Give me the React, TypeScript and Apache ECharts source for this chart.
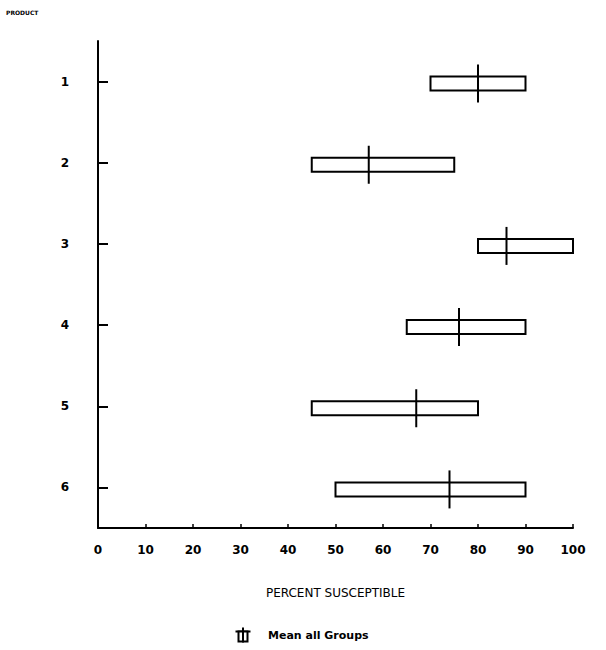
import React, { useEffect, useRef } from "react";
import * as echarts from "echarts";

const groups = ["1", "2", "3", "4", "5", "6"];
const lows = [70, 45, 80, 65, 45, 50];
const highs = [90, 75, 100, 90, 80, 90];
const means = [80, 57, 86, 76, 67, 74];
const xTicks = [0, 10, 20, 30, 40, 50, 60, 70, 80, 90, 100];

const FONT = "DejaVu Sans";

export default function App() {
  const ref = useRef<HTMLDivElement>(null);
  useEffect(() => {
    if (!ref.current) return;
    const chart = echarts.init(ref.current, undefined, { renderer: "svg" });
    const data = groups.map((g, i) => [i, lows[i], highs[i], means[i]]);
    chart.setOption({
      animation: false,
      backgroundColor: "#fff",
      grid: {
        left: 98,
        right: 33,
        top: 41,
        bottom: 122,
        containLabel: false,
        outerBoundsMode: "none",
      },
      xAxis: {
        type: "value",
        min: xTicks[0],
        max: xTicks[xTicks.length - 1],
        interval: 10,
        name: "PERCENT SUSCEPTIBLE",
        nameLocation: "middle",
        nameGap: 59,
        nameTextStyle: { fontFamily: FONT, fontSize: 12, color: "#000" },
        axisLine: { show: true, lineStyle: { color: "#000", width: 2 } },
        axisTick: { show: true, inside: true, length: 4, lineStyle: { color: "#000", width: 1.5 } },
        axisLabel: { margin: 16, fontFamily: FONT, fontSize: 12, fontWeight: "bold", color: "#000" },
        splitLine: { show: false },
      },
      yAxis: {
        type: "category",
        data: groups,
        inverse: true,
        boundaryGap: true,
        axisLine: { show: true, lineStyle: { color: "#000", width: 2 } },
        axisTick: { show: true, inside: true, length: 10, alignWithLabel: true, lineStyle: { color: "#000", width: 2 } },
        axisLabel: { margin: 29, fontFamily: FONT, fontSize: 12, fontWeight: "bold", color: "#000" },
        splitLine: { show: false },
      },
      series: [
        {
          type: "custom",
          name: "Mean all Groups",
          data,
          encode: { x: [1, 2, 3], y: 0 },
          renderItem: (params: any, api: any) => {
            const cat = api.value(0);
            const p1 = api.coord([api.value(1), cat]);
            const p2 = api.coord([api.value(2), cat]);
            const pm = api.coord([api.value(3), cat]);
            const h = 14;
            const off = 2;
            return {
              type: "group",
              children: [
                {
                  type: "rect",
                  shape: { x: p1[0], y: p1[1] - h / 2 + off, width: p2[0] - p1[0], height: h },
                  style: { fill: "#fff", stroke: "#000", lineWidth: 2 },
                },
                {
                  type: "line",
                  shape: { x1: pm[0], y1: pm[1] - 19 + off, x2: pm[0], y2: pm[1] + 19 + off },
                  style: { stroke: "#000", lineWidth: 2 },
                },
              ],
            };
          },
        },
      ],
      graphic: [
        {
          type: "text",
          left: 6,
          top: 9,
          style: { text: "PRODUCT", fontFamily: FONT, fontSize: 6, fontWeight: "bold", fill: "#000" },
        },
        {
          type: "group",
          left: 233,
          top: 625,
          children: [
            { type: "line", shape: { x1: 0, y1: 4, x2: 15, y2: 4 }, style: { stroke: "#000", lineWidth: 2 } },
            { type: "rect", shape: { x: 3, y: 4, width: 9, height: 10 }, style: { fill: "#fff", stroke: "#000", lineWidth: 2 } },
            { type: "line", shape: { x1: 7.5, y1: 0, x2: 7.5, y2: 15 }, style: { stroke: "#000", lineWidth: 2 } },
          ],
        },
        {
          type: "text",
          left: 268,
          top: 630,
          style: { text: "Mean all Groups", fontFamily: FONT, fontSize: 11, fontWeight: "bold", fill: "#000" },
        },
      ],
    });
    return () => chart.dispose();
  }, []);
  return (
    <div
      ref={ref}
      style={{ position: "absolute", left: 0, top: 0, width: 606, height: 650 }}
    />
  );
}
